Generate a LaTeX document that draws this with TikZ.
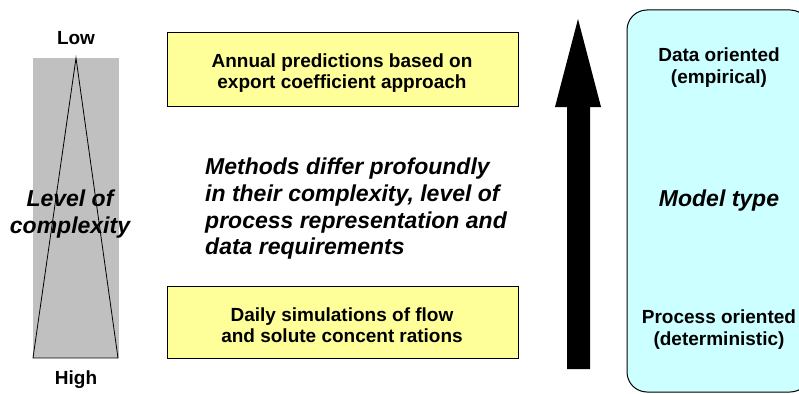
\documentclass[tikz,border=0pt]{standalone}
\usepackage{fontspec}
\setmainfont{Liberation Sans}
\definecolor{boxyellow}{HTML}{FFFF99}
\definecolor{boxcyan}{HTML}{CCFFFF}
\definecolor{bargray}{HTML}{C0C0C0}
\tikzset{
  plainlbl/.style={font=\fontsize{19}{21}\selectfont\bfseries, align=center, inner sep=0pt},
  bigital/.style={font=\fontsize{23}{26.7}\selectfont\bfseries\itshape, inner sep=0pt},
  methodbox/.style={draw=black, line width=1pt, fill=boxyellow},
}
\begin{document}
\begin{tikzpicture}[x=1pt,y=-1pt]
\useasboundingbox (0,0) rectangle (799,393);
\begin{scope}
\clip (0,0) rectangle (799,393);
% left complexity bar
\fill[bargray] (33,58) rectangle (119,358);
\draw[black, line width=0.8pt, line join=miter] (76,58) -- (33,358) -- (118,358) -- cycle;
\node[plainlbl] (low) at (76,38) {Low};
\node[plainlbl] (high) at (76,380) {High};
\node[bigital, align=center] (level) at (70,214) {Level of\\complexity};
% yellow boxes
\draw[methodbox] (167,33) rectangle (518,106);
\node[plainlbl] (annual) at (342,73) {Annual predictions based on\\export coefficient approach};
\draw[methodbox] (167,286) rectangle (518,358);
\node[plainlbl] (daily) at (342,325) {Daily simulations of flow\\and solute concent\hspace{5pt}rations};
% middle text
\node[bigital, align=left, anchor=west] (methods) at (205,209) {Methods differ profoundly\\in their complexity, level of\\process representation and\\data requirements};
% big arrow
\fill[black] (578,19) -- (601,107) -- (590,107) -- (590,369) -- (567,369) -- (567,107) -- (555,107) -- cycle;
% model type box
\draw[line width=1pt, fill=boxcyan, rounded corners=20pt] (627,10) rectangle (810,392);
\node[plainlbl, font=\fontsize{19}{22}\selectfont\bfseries] (data) at (719,68) {Data oriented\\(empirical)};
\node[bigital] (model) at (719,201) {Model type};
\node[plainlbl, font=\fontsize{19}{22}\selectfont\bfseries] (process) at (719,330) {Process oriented\\(deterministic)};
\end{scope}
\end{tikzpicture}
\end{document}
